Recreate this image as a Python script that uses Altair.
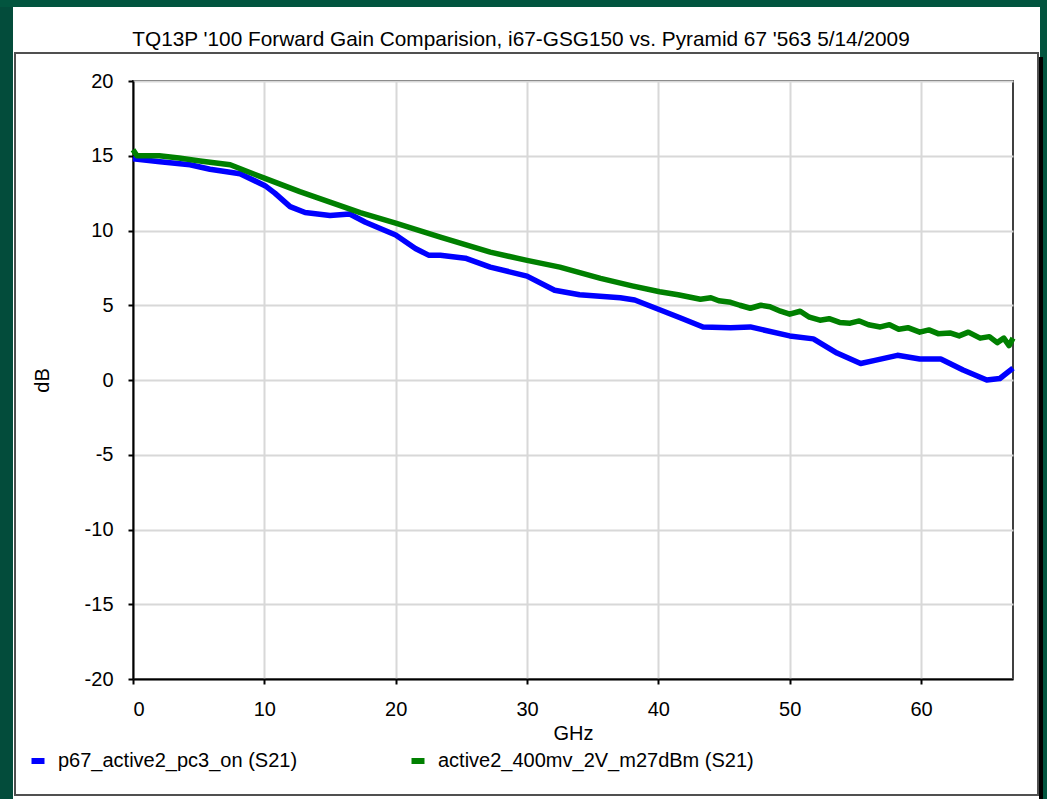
import altair as alt
import pandas as pd

# ---- data ----
blue_name = "p67_active2_pc3_on (S21)"
green_name = "active2_400mv_2V_m27dBm (S21)"

blue_ghz = [0, 2.06, 4.34, 5.86, 8.15, 10.05, 10.8, 11.96, 13.1, 15.0, 16.5, 17.7, 20.0,
            21.5, 22.5, 23.4, 25.3, 27.2, 30.0, 32.1, 34.0, 37.1, 38.2, 40.1, 41.7, 43.4,
            45.5, 47.0, 50.0, 51.8, 53.6, 55.4, 56.4, 58.2, 59.9, 61.5, 63.2, 65.0, 66.0, 67.0]
blue_db = [14.8, 14.6, 14.4, 14.1, 13.8, 13.0, 12.5, 11.6, 11.2, 11.0, 11.1, 10.55, 9.7,
           8.8, 8.35, 8.35, 8.15, 7.55, 6.95, 6.0, 5.7, 5.5, 5.35, 4.7, 4.15, 3.55,
           3.5, 3.55, 2.95, 2.75, 1.8, 1.1, 1.3, 1.65, 1.4, 1.4, 0.67, 0.0, 0.1, 0.8]

green_ghz = [0, 0.3, 2.0, 3.5, 5.1, 7.4, 10.0, 12.7, 15.0, 17.3, 20.0, 23.4, 27.2, 30.0,
             32.5, 35.6, 38.0, 40.1, 41.5, 43.2, 44.0, 44.6, 45.5, 46.2, 47.0, 47.8, 48.5,
             49.3, 50.0, 50.8, 51.5, 52.3, 53.0, 53.8, 54.6, 55.3, 56.0, 56.9, 57.6, 58.3,
             59.0, 59.9, 60.6, 61.3, 62.2, 62.9, 63.6, 64.5, 65.2, 65.8, 66.3, 66.7, 67.0]
green_db = [15.4, 15.0, 15.0, 14.85, 14.65, 14.4, 13.5, 12.6, 11.9, 11.2, 10.5, 9.55, 8.55, 8.0,
            7.55, 6.8, 6.3, 5.9, 5.7, 5.4, 5.5, 5.3, 5.2, 5.0, 4.8, 5.0, 4.9,
            4.6, 4.4, 4.6, 4.2, 4.0, 4.1, 3.85, 3.8, 3.95, 3.7, 3.55, 3.7, 3.4,
            3.5, 3.2, 3.35, 3.1, 3.15, 2.95, 3.2, 2.8, 2.9, 2.5, 2.8, 2.3, 2.8]

x_ticks = [0, 10, 20, 30, 40, 50, 60]
y_ticks = [-20, -15, -10, -5, 0, 5, 10, 15, 20]

title_text = "TQ13P '100 Forward Gain Comparision, i67-GSG150 vs. Pyramid 67 '563 5/14/2009"

blue_df = pd.DataFrame({"GHz": blue_ghz, "dB": blue_db, "series": blue_name})
green_df = pd.DataFrame({"GHz": green_ghz, "dB": green_db, "series": green_name})

FONT = "Liberation Sans, Arial, sans-serif"
FS = 20

W, H = 880, 598
color_scale = alt.Scale(domain=[blue_name, green_name], range=["#0000FF", "#008000"])

x_enc = alt.X("GHz:Q", scale=alt.Scale(domain=[0, 67], nice=False),
              axis=alt.Axis(values=x_ticks, title="GHz", labelExpr="'' + datum.value"))
y_enc = alt.Y("dB:Q", scale=alt.Scale(domain=[-20, 20], nice=False),
              axis=alt.Axis(values=y_ticks, title="dB", labelExpr="'' + datum.value"))

legend = alt.Legend(title=None, orient="none", direction="horizontal",
                    legendX=-105, legendY=670, symbolType="stroke", symbolSize=169,
                    symbolStrokeWidth=6, labelOffset=10, columnPadding=101, labelLimit=0,
                    labelFont=FONT, labelFontSize=FS, labelColor="#000000")

blue_line = alt.Chart(blue_df).mark_line(strokeWidth=5.5, strokeJoin="round").encode(
    x=x_enc, y=y_enc,
    color=alt.Color("series:N", scale=color_scale, legend=legend))
green_line = alt.Chart(green_df).mark_line(strokeWidth=5.5, strokeJoin="round").encode(
    x=x_enc, y=y_enc,
    color=alt.Color("series:N", scale=color_scale, legend=legend))

one = pd.DataFrame({"k": [0]})
base = alt.Chart(one)
# green window border pieces (outside the plot area)
left_strip = base.mark_rect(color="#034c3b").encode(
    x=alt.value(-133), x2=alt.value(-120), y=alt.value(-81), y2=alt.value(718))
top_strip = base.mark_rect(color="#02553f").encode(
    x=alt.value(-133), x2=alt.value(914), y=alt.value(-81), y2=alt.value(-74))
right_strip = base.mark_rect(color="#02553f").encode(
    x=alt.value(907), x2=alt.value(914), y=alt.value(-81), y2=alt.value(718))
shadow = base.mark_rect(color="#000000").encode(
    x=alt.value(906), x2=alt.value(910), y=alt.value(-24), y2=alt.value(718))
frame = base.mark_rect(fill=None, stroke="#505050", strokeWidth=2).encode(
    x=alt.value(-118), x2=alt.value(905), y=alt.value(-28), y2=alt.value(714))
title_mark = base.mark_text(text=title_text, font=FONT, fontSize=20.8, color="#000000",
                            align="center", baseline="middle").encode(
    x=alt.value(388), y=alt.value(-41))

chart = alt.layer(left_strip, top_strip, right_strip, shadow, frame, title_mark,
                  blue_line, green_line).properties(
    width=W, height=H,
    padding={"left": 133, "top": 81, "right": 34, "bottom": 120},
    autosize=alt.AutoSizeParams(type="none"),
).configure(background="#ffffff").configure_view(
    stroke="#404040", strokeWidth=2
).configure_axis(
    labelFont=FONT, labelFontSize=FS, labelColor="#000000",
    titleFont=FONT, titleFontSize=FS, titleFontWeight="normal", titleColor="#000000",
    domainColor="#000000", domainWidth=2, tickColor="#000000", tickSize=5, tickWidth=2,
    gridColor="#d8d8d8", gridWidth=2, labelPadding=15,
).configure_axisX(titlePadding=4).configure_axisY(titlePadding=32, titleAngle=-90)

chart.save("out.html", embed_options={"renderer": "svg", "actions": False})
